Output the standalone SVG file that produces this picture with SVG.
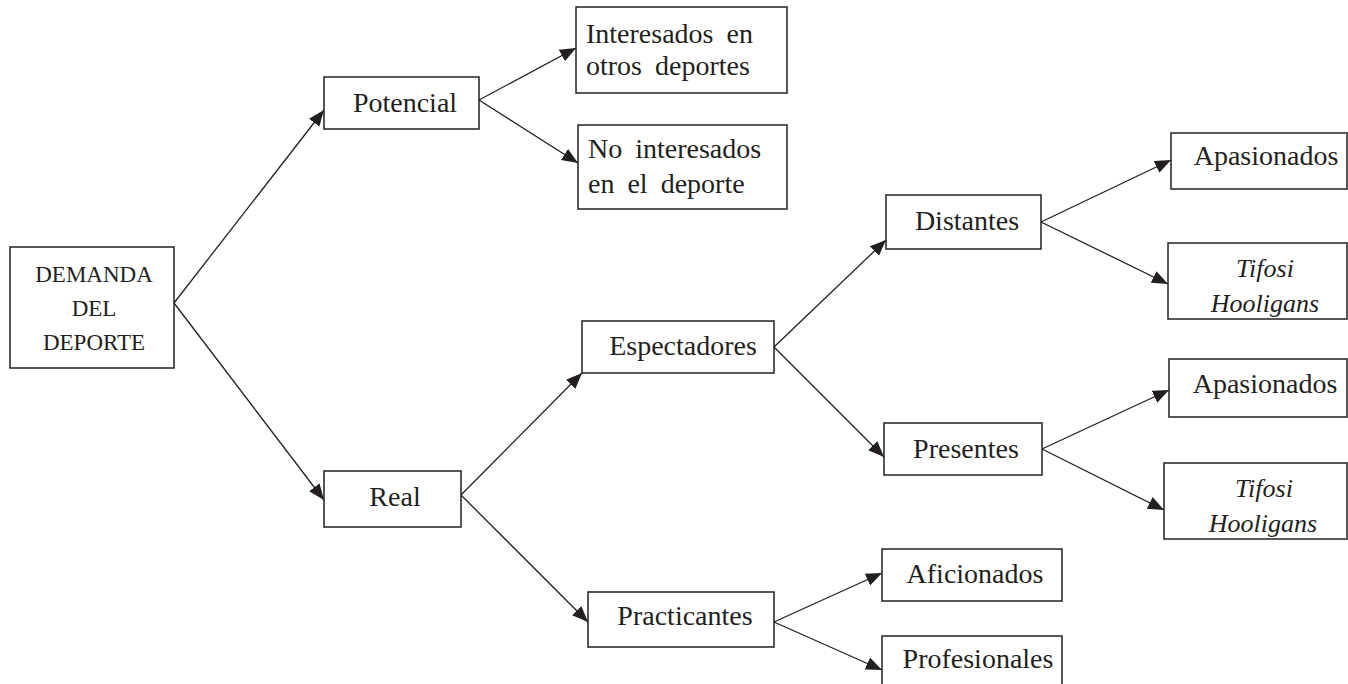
<svg xmlns="http://www.w3.org/2000/svg" width="1348" height="684" viewBox="0 0 1348 684">
<style>
.box{fill:#fff;stroke:#231f20;stroke-width:1.5}
text{font-family:'Liberation Serif','DejaVu Serif','Noto Serif',serif;font-size:28px;fill:#231f20}
.c{text-anchor:middle}
.i{font-style:italic;font-size:26px}
.sm{font-size:23px}
.ln{stroke:#231f20;stroke-width:1.3;fill:none;marker-end:url(#ah)}
</style>
<defs>
<marker id="ah" markerUnits="userSpaceOnUse" markerWidth="18" markerHeight="14" refX="16" refY="6.5" orient="auto">
<path d="M0,0 L16,6.5 L0,13 Z" fill="#231f20"/>
</marker>
</defs>
<rect width="1348" height="684" fill="#fff"/>
<g id="connectors">
<line class="ln" x1="174" y1="303" x2="324" y2="110"/>
<line class="ln" x1="174" y1="303" x2="324" y2="500"/>
<line class="ln" x1="479" y1="100" x2="576" y2="48"/>
<line class="ln" x1="479" y1="100" x2="578" y2="163"/>
<line class="ln" x1="461" y1="495" x2="582" y2="373"/>
<line class="ln" x1="461" y1="495" x2="588" y2="622"/>
<line class="ln" x1="774" y1="347" x2="886" y2="240"/>
<line class="ln" x1="774" y1="347" x2="884" y2="457"/>
<line class="ln" x1="1041" y1="222" x2="1171" y2="160"/>
<line class="ln" x1="1041" y1="222" x2="1168" y2="284"/>
<line class="ln" x1="1042" y1="449" x2="1169" y2="390"/>
<line class="ln" x1="1042" y1="449" x2="1164" y2="510"/>
<line class="ln" x1="774" y1="622" x2="882" y2="573"/>
<line class="ln" x1="774" y1="622" x2="882" y2="670"/>
</g>
<g id="demanda">
<rect class="box" x="10" y="247" width="164" height="121"/>
<text class="c sm" x="94" y="282">DEMANDA</text>
<text class="c sm" x="94" y="316">DEL</text>
<text class="c sm" x="94" y="350">DEPORTE</text>
</g>
<g id="potencial">
<rect class="box" x="324" y="77" width="155" height="52"/>
<text class="c" x="405" y="112">Potencial</text>
</g>
<g id="interesados">
<rect class="box" x="576" y="7" width="211" height="86"/>
<text x="586" y="43" word-spacing="6">Interesados en</text>
<text x="586" y="75" word-spacing="6">otros deportes</text>
</g>
<g id="nointeresados">
<rect class="box" x="578" y="125" width="209" height="84"/>
<text x="588" y="158" word-spacing="6">No interesados</text>
<text x="588" y="193" word-spacing="6">en el deporte</text>
</g>
<g id="real">
<rect class="box" x="324" y="471" width="137" height="56"/>
<text class="c" x="395" y="506">Real</text>
</g>
<g id="espectadores">
<rect class="box" x="582" y="321" width="192" height="52"/>
<text class="c" x="683" y="355">Espectadores</text>
</g>
<g id="practicantes">
<rect class="box" x="588" y="592" width="186" height="55"/>
<text class="c" x="685" y="625">Practicantes</text>
</g>
<g id="distantes">
<rect class="box" x="886" y="195" width="155" height="54"/>
<text class="c" x="967" y="230">Distantes</text>
</g>
<g id="presentes">
<rect class="box" x="884" y="423" width="158" height="52"/>
<text class="c" x="966" y="458">Presentes</text>
</g>
<g id="apasionados1">
<rect class="box" x="1171" y="133" width="176" height="56"/>
<text class="c" x="1266" y="165">Apasionados</text>
</g>
<g id="tifosi1">
<rect class="box" x="1168" y="243" width="179" height="76"/>
<text class="c i" x="1265" y="277">Tifosi</text>
<text class="c i" x="1265" y="312">Hooligans</text>
</g>
<g id="apasionados2">
<rect class="box" x="1169" y="359" width="178" height="58"/>
<text class="c" x="1265" y="393">Apasionados</text>
</g>
<g id="tifosi2">
<rect class="box" x="1164" y="463" width="183" height="76"/>
<text class="c i" x="1264" y="497">Tifosi</text>
<text class="c i" x="1263" y="532">Hooligans</text>
</g>
<g id="aficionados">
<rect class="box" x="882" y="549" width="180" height="52"/>
<text class="c" x="975" y="583">Aficionados</text>
</g>
<g id="profesionales">
<rect class="box" x="882" y="636" width="180" height="52"/>
<text class="c" x="978" y="668">Profesionales</text>
</g>
</svg>
